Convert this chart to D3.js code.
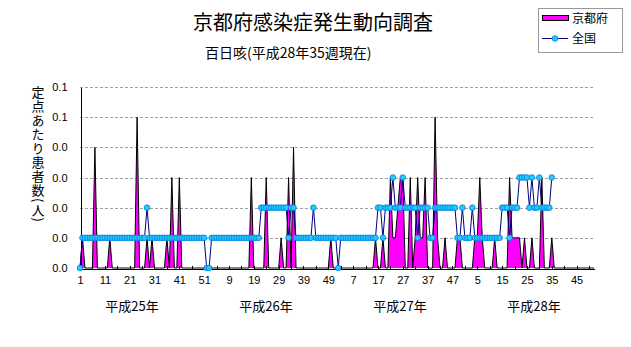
<!DOCTYPE html>
<html><head><meta charset="utf-8">
<script src="https://cdn.jsdelivr.net/npm/d3@7"></script>
<style>
html,body{margin:0;padding:0;background:#fff;}
svg{display:block;}
.jp{font-family:"Noto Sans CJK JP","Noto Sans",sans-serif;}
.num{font-family:"Liberation Sans Narrow","Arial Narrow","Liberation Sans",sans-serif;}
</style></head><body>
<svg id="chart" width="631" height="347"></svg>
<script>
const chartTitle = "京都府感染症発生動向調査";
const chartSubtitle = "百日咳(平成28年35週現在)";
const yAxisTitle = "定点あたり患者数(人)";
const years = ["平成25年","平成26年","平成27年","平成28年"];
const weeksPerYear = [52,52,52,52];
const seriesNames = ["京都府","全国"];
const yTickValues = [0,0.01,0.02,0.03,0.04,0.05,0.06];

// 京都府 (weekly, per sentinel)
const kyotoH25 = [0,0.01,0,0,0,0,0.04,0,0,0,
  0,0,0.01,0,0,0,0,0,0,0,
  0,0,0,0.05,0,0,0,0.01,0,0.01,
  0,0,0,0,0,0.01,0,0.03,0,0,
  0.03,0,0,0,0,0,0,0,0,0,
  0,0];
const kyotoH26 = [0,0,0,0,0,0,0,0,0,0,
  0,0,0,0,0,0,0,0.03,0,0,
  0,0,0,0.03,0,0,0,0,0,0.01,
  0,0,0.03,0,0.04,0,0,0,0,0,
  0,0,0,0,0,0,0,0,0,0.01,
  0,0];
const kyotoH27 = [0,0,0,0,0,0,0,0,0,0,
  0,0,0,0,0,0.01,0,0,0.01,0,
  0,0.03,0.01,0.01,0.02,0.03,0.03,0,0,0.03,
  0,0.01,0.03,0.01,0.01,0.03,0,0,0,0.05,
  0.01,0,0,0.01,0,0,0,0,0.01,0.01,
  0,0];
const kyotoH28 = [0,0,0,0.01,0.01,0.03,0.01,0,0,0,
  0,0.01,0,0,0,0,0,0.03,0.01,0.01,
  0.01,0.01,0,0.01,0,0,0.01,0,0,0,
  0.03,0,0,0,0.01];

// 全国
const zenkokuH25 = [0,0.01,0.01,0.01,0.01,0.01,0.01,0.01,0.01,0.01,
  0.01,0.01,0.01,0.01,0.01,0.01,0.01,0.01,0.01,0.01,
  0.01,0.01,0.01,0.01,0.01,0.01,0.01,0.02,0.01,0.01,
  0.01,0.01,0.01,0.01,0.01,0.01,0.01,0.01,0.01,0.01,
  0.01,0.01,0.01,0.01,0.01,0.01,0.01,0.01,0.01,0.01,
  0.01,0];
const zenkokuH26 = [0,0.01,0.01,0.01,0.01,0.01,0.01,0.01,0.01,0.01,
  0.01,0.01,0.01,0.01,0.01,0.01,0.01,0.01,0.01,0.01,
  0.01,0.02,0.02,0.02,0.02,0.02,0.02,0.02,0.02,0.02,
  0.02,0.02,0.01,0.02,0.02,0.01,0.01,0.01,0.01,0.01,
  0.01,0.01,0.02,0.01,0.01,0.01,0.01,0.01,0.01,0.01,
  0.01,0.01];
const zenkokuH27 = [0,0.01,0.01,0.01,0.01,0.01,0.01,0.01,0.01,0.01,
  0.01,0.01,0.01,0.01,0.01,0.01,0.02,0.02,0.01,0.02,
  0.02,0.02,0.03,0.02,0.02,0.02,0.03,0.02,0.02,0.02,
  0.02,0.02,0.01,0.02,0.02,0.02,0.02,0.01,0.01,0.02,
  0.02,0.02,0.02,0.02,0.02,0.02,0.02,0.02,0.01,0.01,
  0.02,0.01];
const zenkokuH28 = [0.01,0.01,0.02,0.01,0.01,0.01,0.01,0.01,0.01,0.01,
  0.01,0.01,0.01,0.01,0.02,0.02,0.02,0.01,0.02,0.02,
  0.02,0.03,0.03,0.03,0.03,0.02,0.03,0.02,0.02,0.03,
  0.02,0.02,0.02,0.02,0.03];

const categories = [];
years.forEach((yr, yi) => { for (let w = 1; w <= weeksPerYear[yi]; w++) categories.push({year: yi, week: w}); });
const N = categories.length;
const kyotoAll = [].concat(kyotoH25, kyotoH26, kyotoH27, kyotoH28);
const zenkokuAll = [].concat(zenkokuH25, zenkokuH26, zenkokuH27, zenkokuH28);
const kyoto = categories.map((c, i) => kyotoAll[i] !== undefined ? kyotoAll[i] : 0);
const zenkoku = categories.map((c, i) => zenkokuAll[i] !== undefined ? zenkokuAll[i] : null);

const svg = d3.select("#chart");
svg.append("rect").attr("width", 631).attr("height", 347).attr("fill", "#fff");

const x = d3.scalePoint().domain(d3.range(N)).range([80, 594]);
const y = d3.scaleLinear().domain([0, 0.06]).range([268, 87]);

// title
svg.append("text").attr("class", "jp").attr("x", 313).attr("y", 30)
  .attr("text-anchor", "middle").attr("font-size", 20).attr("fill", "#000").text(chartTitle);
svg.append("text").attr("class", "jp").attr("x", 205).attr("y", 58)
  .attr("font-size", 14).attr("fill", "#000").text(chartSubtitle);

// gridlines
svg.append("g").selectAll("line").data(yTickValues.filter(v => v > 0)).join("line")
  .attr("x1", x(0)).attr("x2", x(N - 1))
  .attr("y1", d => Math.round(y(d)) + 0.5).attr("y2", d => Math.round(y(d)) + 0.5)
  .attr("stroke", "#a0a0a0").attr("stroke-dasharray", "3,2").attr("shape-rendering", "crispEdges");

// area
const area = d3.area().x((d, i) => x(i)).y0(y(0)).y1(d => y(d));
svg.append("path").datum(kyoto).attr("d", area).attr("fill", "#ff00ff");
svg.append("path").datum(kyoto).attr("d", d3.line().x((d, i) => x(i)).y(d => y(d)))
  .attr("fill", "none").attr("stroke", "#000").attr("stroke-width", 1);

// axes
const yAxis = d3.axisLeft(y).tickValues(yTickValues).tickFormat(d3.format(".1f")).tickSize(0).tickPadding(13);
const gy = svg.append("g").attr("transform", "translate(80.5,0)").call(yAxis);
gy.select(".domain").attr("stroke", "#000").attr("shape-rendering", "crispEdges");
gy.selectAll("text").attr("class", "num").attr("font-size", 11).attr("fill", "#000");

const xAxis = d3.axisBottom(x).tickValues(d3.range(0, N, 5)).tickSizeInner(-3).tickSizeOuter(0)
  .tickFormat(i => i % 10 === 0 ? categories[i].week : "").tickPadding(8);
const gx = svg.append("g").attr("transform", "translate(0,268.5)").call(xAxis);
gx.select(".domain").attr("stroke", "#000").attr("shape-rendering", "crispEdges");
gx.selectAll(".tick line").attr("stroke", "#000").attr("shape-rendering", "crispEdges");
gx.selectAll("text").attr("class", "num").attr("font-size", 11).attr("fill", "#000");

// year labels
const yearX = d3.scaleLinear().domain([0, years.length - 1]).range([132, 534]);
svg.append("g").selectAll("text").data(years).join("text").attr("class", "jp")
  .attr("x", (d, i) => yearX(i)).attr("y", 311).attr("text-anchor", "middle")
  .attr("font-size", 13).attr("fill", "#000").text(d => d);

// y axis title
svg.append("text").attr("class", "jp").attr("x", 38).attr("y", 86)
  .attr("font-size", 13).attr("letter-spacing", 1).attr("fill", "#000")
  .style("writing-mode", "vertical-rl").text(yAxisTitle);

// national line
const line = d3.line().defined(d => d !== null).x((d, i) => x(i)).y(d => y(d));
svg.append("path").datum(zenkoku).attr("d", line).attr("fill", "none")
  .attr("stroke", "#000080").attr("stroke-width", 1);
svg.append("g").selectAll("circle").data(zenkoku.map((v, i) => ({v, i})).filter(d => d.v !== null)).join("circle")
  .attr("cx", d => x(d.i)).attr("cy", d => y(d.v)).attr("r", 2.8)
  .attr("fill", "#22ccff").attr("stroke", "#0077dd").attr("stroke-width", 0.8);

// legend
const lg = svg.append("g");
lg.append("rect").attr("x", 538.5).attr("y", 8.5).attr("width", 84).attr("height", 44)
  .attr("fill", "#fff").attr("stroke", "#999").attr("shape-rendering", "crispEdges");
lg.append("rect").attr("x", 542.5).attr("y", 15.5).attr("width", 26).attr("height", 5)
  .attr("fill", "#ff00ff").attr("stroke", "#000").attr("stroke-width", 1);
lg.append("text").attr("class", "jp").attr("x", 572).attr("y", 23).attr("font-size", 12).text(seriesNames[0]);
lg.append("line").attr("x1", 542).attr("x2", 568).attr("y1", 38.5).attr("y2", 38.5).attr("stroke", "#000080");
lg.append("circle").attr("cx", 555).attr("cy", 38.5).attr("r", 2.8).attr("fill", "#22ccff").attr("stroke", "#0077dd").attr("stroke-width", 0.8);
lg.append("text").attr("class", "jp").attr("x", 572).attr("y", 43).attr("font-size", 12).text(seriesNames[1]);
</script>
</body></html>
